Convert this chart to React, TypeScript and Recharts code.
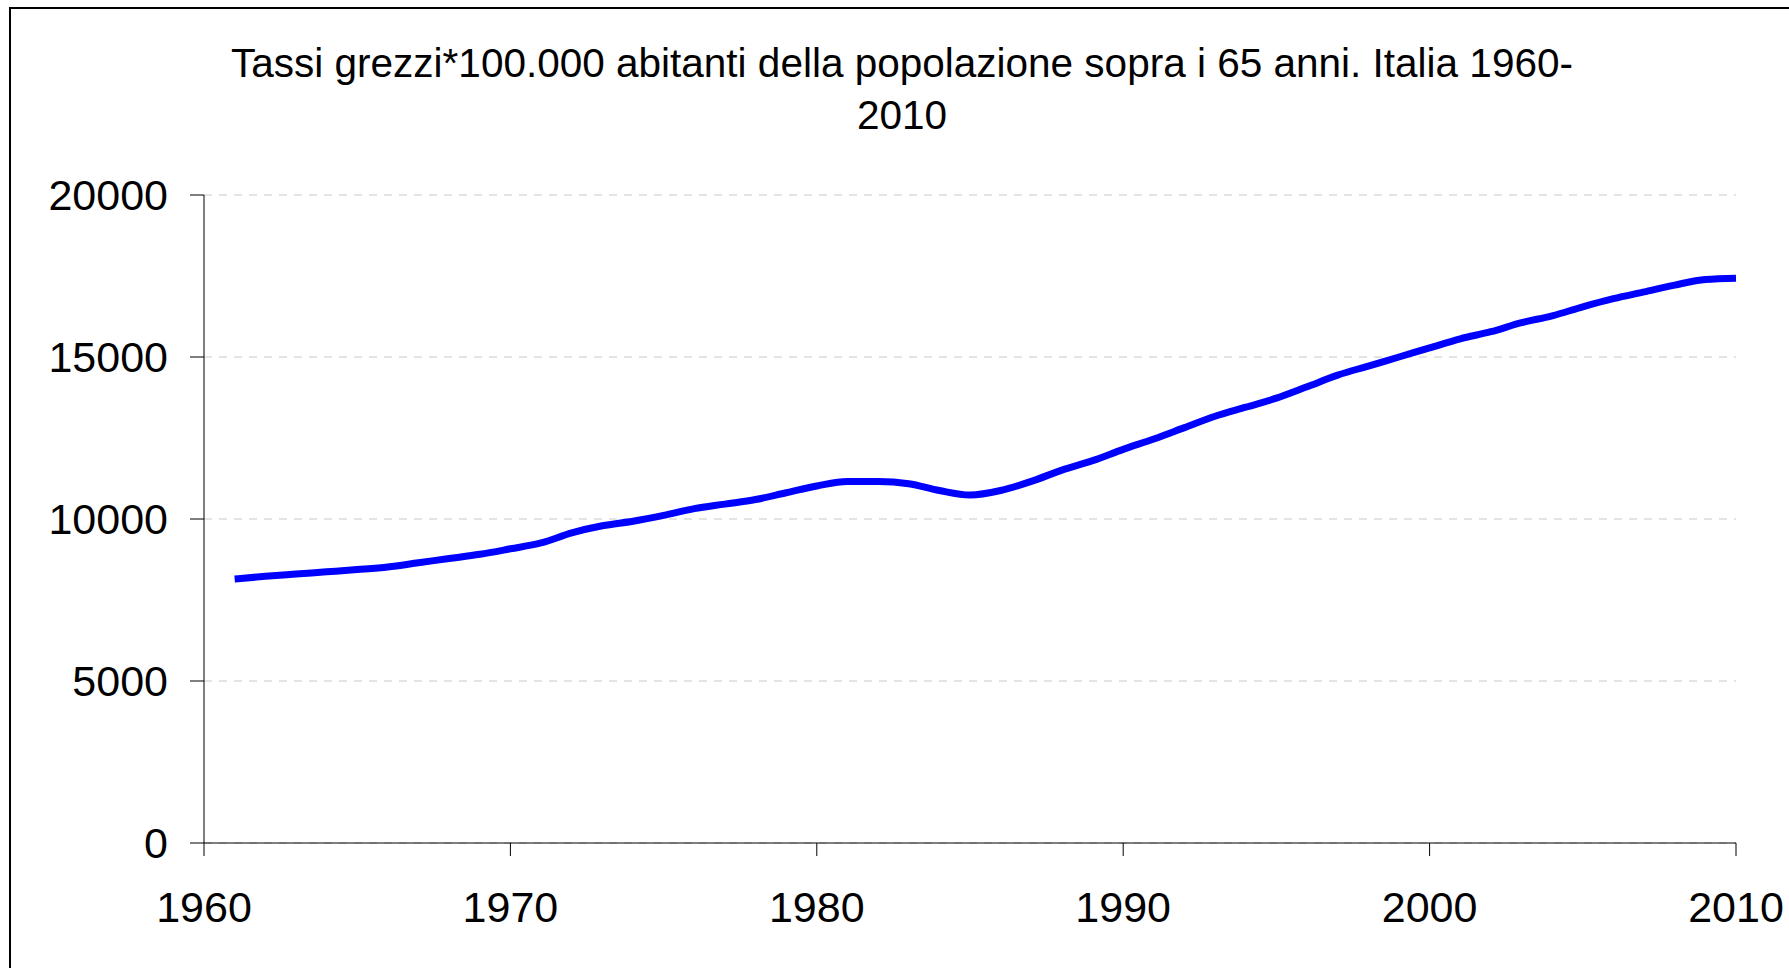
import { CartesianGrid, Line, LineChart, XAxis, YAxis } from "recharts";

const years = [
  1961, 1962, 1963, 1964, 1965, 1966, 1967, 1968, 1969, 1970,
  1971, 1972, 1973, 1974, 1975, 1976, 1977, 1978, 1979, 1980,
  1981, 1982, 1983, 1984, 1985, 1986, 1987, 1988, 1989, 1990,
  1991, 1992, 1993, 1994, 1995, 1996, 1997, 1998, 1999, 2000,
  2001, 2002, 2003, 2004, 2005, 2006, 2007, 2008, 2009, 2010
];

const rates = [
  8150, 8230, 8300, 8370, 8440, 8520, 8650, 8780, 8910, 9080,
  9260, 9570, 9790, 9930, 10110, 10320, 10460, 10600, 10810, 11020,
  11160, 11160, 11090, 10880, 10740, 10880, 11160, 11510, 11800, 12150,
  12470, 12820, 13170, 13450, 13730, 14080, 14440, 14720, 15000, 15280,
  15560, 15780, 16060, 16270, 16550, 16800, 17010, 17220, 17390, 17430
];

const xTicks = [1960, 1970, 1980, 1990, 2000, 2010];
const yTicks = [0, 5000, 10000, 15000, 20000];

const titleLines = [
  "Tassi grezzi*100.000 abitanti della popolazione sopra i 65 anni. Italia 1960-",
  "2010"
];

const data = years.map((year, i) => ({ year, rate: rates[i] }));

const font = "'Liberation Sans', Arial, sans-serif";

export default function App() {
  return (
    <div
      style={{
        position: "fixed",
        left: 0,
        top: 0,
        width: 1789,
        height: 968,
        overflow: "hidden",
        background: "#fff",
        fontFamily: font
      }}
    >
      <div
        style={{
          position: "absolute",
          left: 9,
          top: 7,
          width: 1800,
          height: 1000,
          border: "2px solid #000",
          boxSizing: "border-box"
        }}
      />
      <svg
        width={1789}
        height={150}
        style={{ position: "absolute", left: 0, top: 0 }}
      >
        {titleLines.map((line, i) => (
          <text
            key={i}
            x={902}
            y={77 + i * 52}
            textAnchor="middle"
            fontSize={40.5}
            fontFamily={font}
            fill="#000"
          >
            {line}
          </text>
        ))}
      </svg>
      <div style={{ position: "absolute", left: 0, top: 0 }}>
        <LineChart
          width={1789}
          height={968}
          data={data}
          margin={{ top: 195, right: 53, bottom: 65, left: 0 }}
        >
          <CartesianGrid
            vertical={false}
            stroke="#c8c8c8"
            strokeDasharray="8 7"
          />
          <XAxis
            dataKey="year"
            type="number"
            domain={[1960, 2010]}
            ticks={xTicks}
            height={60}
            tickSize={13}
            tickMargin={35}
            stroke="#000"
            tick={{ fill: "#000", fontSize: 43, fontFamily: font }}
            interval={0}
          />
          <YAxis
            domain={[0, 20000]}
            ticks={yTicks}
            width={204}
            tickSize={14}
            tickMargin={22}
            stroke="#000"
            tick={{ fill: "#000", fontSize: 43, fontFamily: font }}
            interval={0}
          />
          <Line
            type="monotone"
            dataKey="rate"
            stroke="#0000ff"
            strokeWidth={7}
            dot={false}
            isAnimationActive={false}
          />
        </LineChart>
      </div>
    </div>
  );
}
